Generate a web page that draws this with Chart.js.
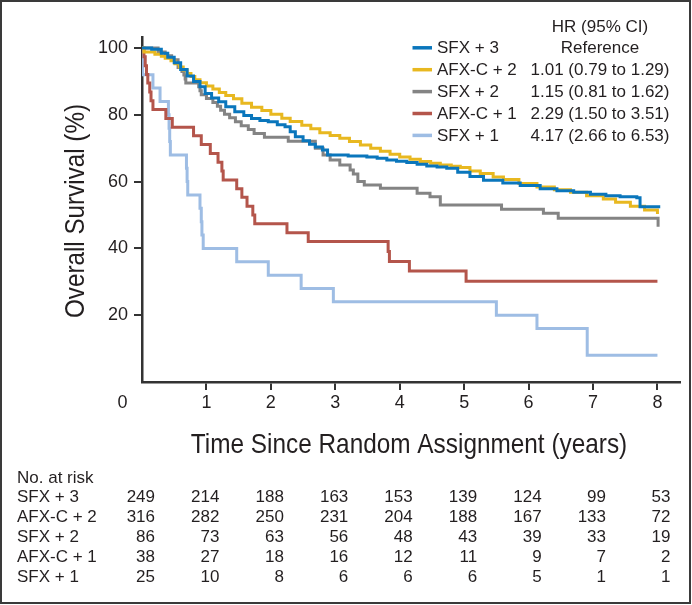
<!DOCTYPE html>
<html>
<head>
<meta charset="utf-8">
<style>
  html, body { margin: 0; padding: 0; background: #fff; }
  #wrap { width: 692px; height: 605px; }
</style>
</head>
<body>
<div id="wrap"><canvas id="myChart" width="692" height="605"></canvas></div>
<script src="https://cdn.jsdelivr.net/npm/chart.js@4.4.1/dist/chart.umd.min.js"></script>
<script>
// survival curves (years, % alive)
const sfx3Time = [0, 0.15, 0.3, 0.4, 0.5, 0.6, 0.7, 0.8, 0.9, 0.98, 1.08, 1.19, 1.3, 1.44, 1.58, 1.7, 1.83, 1.96, 2.1, 2.22, 2.3, 2.38, 2.5, 2.6, 2.69, 2.8, 2.88, 3.2, 3.49, 3.65, 3.8, 3.95, 4.11, 4.27, 4.42, 4.58, 4.73, 4.9, 5.09, 5.3, 5.6, 5.87, 6.18, 6.44, 6.7, 6.96, 7.2, 7.42, 7.68, 7.73, 8.02];
const sfx3Surv = [100, 99.6, 98.4, 97.2, 95.6, 93.6, 91.6, 90.0, 88.4, 86.4, 85.0, 83.9, 82.4, 80.9, 79.8, 78.9, 78.3, 77.9, 77.0, 76.4, 74.9, 73.4, 72.2, 71.2, 70.4, 69.5, 68.0, 67.7, 67.4, 67.0, 66.5, 66.1, 65.7, 65.2, 64.7, 64.4, 64.0, 62.8, 61.5, 60.4, 59.6, 58.8, 57.9, 57.3, 56.8, 56.2, 55.8, 55.5, 55.2, 52.5, 52.0];

const afxc2Time = [0, 0.03, 0.2, 0.3, 0.36, 0.45, 0.51, 0.58, 0.64, 0.7, 0.76, 0.82, 0.9, 1.0, 1.1, 1.2, 1.3, 1.42, 1.55, 1.7, 1.86, 2.0, 2.17, 2.3, 2.48, 2.62, 2.76, 2.92, 3.07, 3.22, 3.39, 3.55, 3.7, 3.85, 4.0, 4.16, 4.32, 4.48, 4.63, 4.8, 4.94, 5.09, 5.25, 5.45, 5.61, 5.85, 6.13, 6.4, 6.65, 6.9, 7.16, 7.35, 7.58, 7.8, 8.0];
const afxc2Surv = [100, 98.8, 98.1, 97.5, 96.9, 96.2, 95.3, 94.3, 93.4, 92.4, 91.5, 90.5, 89.6, 88.6, 87.7, 86.7, 85.8, 84.8, 83.5, 82.3, 81.3, 80.2, 79.0, 78.0, 76.9, 75.8, 74.6, 73.8, 73.0, 72.0, 71.0, 70.0, 69.1, 68.2, 67.4, 66.7, 66.0, 65.5, 65.0, 64.6, 64.2, 63.2, 62.4, 61.4, 60.6, 59.4, 58.4, 57.6, 56.8, 55.8, 54.8, 53.8, 52.6, 51.5, 50.3];

const sfx2Time = [0, 0.25, 0.36, 0.46, 0.56, 0.62, 0.65, 0.67, 0.68, 0.88, 0.9, 0.92, 1.0, 1.1, 1.17, 1.22, 1.28, 1.36, 1.45, 1.54, 1.65, 1.74, 1.9, 2.27, 2.69, 2.81, 2.92, 3.07, 3.23, 3.28, 3.35, 3.45, 3.7, 4.27, 4.47, 4.63, 5.58, 6.23, 6.46, 8.0, 8.01];
const sfx2Surv = [100, 98.8, 97.7, 96.5, 94.2, 93.0, 91.9, 90.7, 89.5, 88.4, 87.2, 86.0, 84.9, 83.7, 82.6, 81.4, 80.2, 79.1, 77.9, 76.7, 75.6, 74.4, 73.3, 72.1, 70.0, 68.0, 66.5, 65.0, 63.5, 62.3, 60.0, 59.0, 58.0, 56.5, 55.5, 53.0, 51.7, 50.5, 49.0, 49.0, 46.5];

const afxc1Time = [0, 0.03, 0.05, 0.07, 0.09, 0.12, 0.14, 0.17, 0.37, 0.47, 0.8, 0.92, 1.06, 1.18, 1.24, 1.26, 1.47, 1.55, 1.63, 1.72, 1.75, 2.25, 2.58, 3.82, 3.84, 4.15, 5.03, 8.0];
const afxc1Surv = [100, 97.4, 94.7, 92.1, 89.5, 86.8, 84.2, 81.6, 78.9, 76.3, 73.7, 71.1, 68.4, 65.8, 63.2, 60.5, 57.9, 55.3, 52.6, 50.0, 47.4, 44.7, 42.1, 39.1, 36.1, 33.2, 30.2, 30.2];

const sfx1Time = [0, 0.01, 0.17, 0.28, 0.41, 0.42, 0.43, 0.44, 0.69, 0.7, 0.71, 0.9, 0.92, 0.93, 0.95, 1.47, 1.96, 2.47, 2.97, 5.5, 6.13, 6.91, 8.0];
const sfx1Surv = [100, 92, 88, 84, 80, 76, 72, 68, 64, 60, 56, 52, 48, 44, 40, 36, 32, 28, 24, 20, 16, 8, 8];

const groupNames = ['SFX + 3', 'AFX-C + 2', 'SFX + 2', 'AFX-C + 1', 'SFX + 1'];
const hrText = ['Reference', '1.01 (0.79 to 1.29)', '1.15 (0.81 to 1.62)', '2.29 (1.50 to 3.51)', '4.17 (2.66 to 6.53)'];
const groupColors = ['#0a76bc', '#e8b820', '#848484', '#b4554b', '#9ebde4'];

const xTickLabels = [0, 1, 2, 3, 4, 5, 6, 7, 8];
const yTickLabels = [20, 40, 60, 80, 100];

// number at risk, one value per year 0..8
const riskSfx3 = [249, 214, 188, 163, 153, 139, 124, 99, 53];
const riskAfxc2 = [316, 282, 250, 231, 204, 188, 167, 133, 72];
const riskSfx2 = [86, 73, 63, 56, 48, 43, 39, 33, 19];
const riskAfxc1 = [38, 27, 18, 16, 12, 11, 9, 7, 2];
const riskSfx1 = [25, 10, 8, 6, 6, 6, 5, 1, 1];

const family = "'Liberation Sans', Arial, Helvetica, sans-serif";
const ink = '#231f20';
const axisInk = '#333333';

Chart.defaults.font.family = family;
Chart.defaults.color = ink;

function toPoints(times, surv) {
	return times.map((t, i) => ({ x: t, y: surv[i] }));
}

const seriesTimes = [sfx3Time, afxc2Time, sfx2Time, afxc1Time, sfx1Time];
const seriesSurv = [sfx3Surv, afxc2Surv, sfx2Surv, afxc1Surv, sfx1Surv];
const riskRows = [riskSfx3, riskAfxc2, riskSfx2, riskAfxc1, riskSfx1];

// squeeze a text horizontally (the figure uses a condensed face for titles)
function drawSqueezed(ctx, text, x, y, rotate, sx) {
	ctx.save();
	ctx.translate(x, y);
	if (rotate) ctx.rotate(-Math.PI / 2);
	ctx.scale(sx, 1);
	ctx.fillText(text, 0, 0);
	ctx.restore();
}

const kmExtras = {
	id: 'kmExtras',
	beforeDraw(chart) {
		const ctx = chart.ctx;
		ctx.save();
		ctx.fillStyle = '#fff';
		ctx.fillRect(0, 0, chart.width, chart.height);
		ctx.restore();
	},
	afterDraw(chart) {
		const ctx = chart.ctx;
		const x = chart.scales.x;
		ctx.save();
		ctx.fillStyle = ink;

		// the "0" sits left of the corner
		ctx.font = '18px ' + family;
		ctx.textAlign = 'center';
		ctx.textBaseline = 'middle';
		ctx.fillText(String(xTickLabels[0]), x.getPixelForValue(0) - 19.5, 402.8);

		// axis titles
		ctx.font = '28px ' + family;
		ctx.textBaseline = 'alphabetic';
		ctx.textAlign = 'center';
		drawSqueezed(ctx, 'Time Since Random Assignment (years)', 409, 453, false, 0.87);
		drawSqueezed(ctx, 'Overall Survival (%)', 83.5, 211, true, 0.865);

		// legend with hazard ratios
		ctx.font = '17px ' + family;
		ctx.textAlign = 'center';
		ctx.fillText('HR (95% CI)', 600, 31.7);
		groupNames.forEach((name, i) => {
			const base = 53.3 + i * 21.9;
			ctx.strokeStyle = groupColors[i];
			ctx.lineWidth = 3.5;
			ctx.beginPath();
			ctx.moveTo(412.5, base - 5.5);
			ctx.lineTo(432, base - 5.5);
			ctx.stroke();
			ctx.textAlign = 'left';
			ctx.fillText(name, 437, base);
			ctx.textAlign = 'center';
			ctx.fillText(hrText[i], 600, base);
		});

		// number at risk table
		ctx.font = '17px ' + family;
		ctx.textAlign = 'left';
		ctx.fillText('No. at risk', 17, 482.5);
		riskRows.forEach((row, i) => {
			const base = 502 + i * 20;
			ctx.textAlign = 'left';
			ctx.fillText(groupNames[i], 17, base);
			ctx.textAlign = 'right';
			row.forEach((n, j) => {
				ctx.fillText(String(n), x.getPixelForValue(xTickLabels[j]) + 13, base);
			});
		});

		// frame
		ctx.strokeStyle = '#3a3a3a';
		ctx.lineWidth = 2;
		ctx.strokeRect(1, 1, 689, 602);
		ctx.restore();
	}
};

document.addEventListener('DOMContentLoaded', function () {
	const chart1 = document.getElementById('myChart').getContext('2d');

	new Chart(chart1, {
		type: 'line',
		data: {
			datasets: groupNames.map((name, i) => ({
				label: name,
				data: toPoints(seriesTimes[i], seriesSurv[i]),
				borderColor: groupColors[i],
				backgroundColor: groupColors[i],
				borderWidth: 3,
				stepped: true,
				pointRadius: 0,
				fill: false,
			})),
		},
		options: {
			responsive: false,
			animation: false,
			events: [],
			layout: {
				padding: { top: 37, right: 12, bottom: 0, left: 0 }
			},
			plugins: {
				legend: { display: false },
				tooltip: { enabled: false }
			},
			scales: {
				x: {
					type: 'linear',
					min: 0,
					max: 8.35,
					afterFit: function (s) { s.height = 223; },
					afterBuildTicks: function (s) {
						s.ticks = xTickLabels.filter(v => v > 0).map(v => ({ value: v }));
					},
					grid: { drawOnChartArea: false, color: axisInk, lineWidth: 2, tickLength: 8 },
					border: { color: axisInk, width: 2.5 },
					ticks: { color: ink, font: { size: 18 }, padding: 2, maxRotation: 0, autoSkip: false }
				},
				y: {
					type: 'linear',
					min: 0,
					max: 103.3,
					afterFit: function (s) { s.width = 142; },
					afterBuildTicks: function (s) {
						s.ticks = yTickLabels.map(v => ({ value: v }));
					},
					grid: { drawOnChartArea: false, color: axisInk, lineWidth: 2, tickLength: 8 },
					border: { color: axisInk, width: 2.5 },
					ticks: { color: ink, font: { size: 18 }, padding: 6 }
				}
			}
		},
		plugins: [kmExtras]
	});
});
</script>
</body>
</html>
